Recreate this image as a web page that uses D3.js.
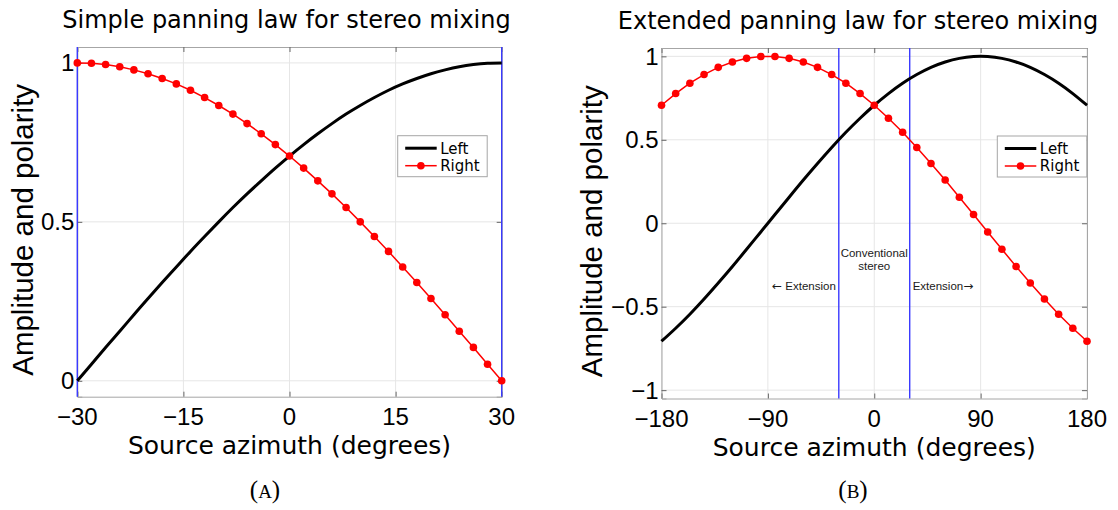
<!DOCTYPE html>
<html>
<head>
<meta charset="utf-8">
<script src="https://cdn.jsdelivr.net/npm/d3@7"></script>
<style>
  html, body { margin: 0; padding: 0; background: #ffffff; }
  svg { display: block; }
</style>
</head>
<body>
<svg id="fig" width="1118" height="510"></svg>
<script>
// ---- Panel A: simple panning law, azimuth -30..30 deg ----
const simpleAzimuth = [-30, -28, -26, -24, -22, -20, -18, -16, -14, -12, -10, -8, -6, -4, -2,
  0, 2, 4, 6, 8, 10, 12, 14, 16, 18, 20, 22, 24, 26, 28, 30];
const simpleLeft = [0.000, 0.052, 0.105, 0.156, 0.208, 0.259, 0.309, 0.358, 0.407, 0.454, 0.500,
  0.545, 0.588, 0.629, 0.669, 0.707, 0.743, 0.777, 0.809, 0.839, 0.866, 0.891, 0.914, 0.934,
  0.951, 0.966, 0.978, 0.988, 0.995, 0.999, 1.000];
const simpleRight = [1.000, 0.999, 0.995, 0.988, 0.978, 0.966, 0.951, 0.934, 0.914, 0.891, 0.866,
  0.839, 0.809, 0.777, 0.743, 0.707, 0.669, 0.629, 0.588, 0.545, 0.500, 0.454, 0.407, 0.358,
  0.309, 0.259, 0.208, 0.156, 0.105, 0.052, 0.000];
const simpleXTicks = [-30, -15, 0, 15, 30];
const simpleYTicks = [0, 0.5, 1];
const simpleBoundaries = [-30, 30];

// ---- Panel B: extended panning law, azimuth -180..180 deg ----
const extAzimuth = [-180, -168, -156, -144, -132, -120, -108, -96, -84, -72, -60, -48, -36, -24, -12,
  0, 12, 24, 36, 48, 60, 72, 84, 96, 108, 120, 132, 144, 156, 168, 180];
const extLeft = [-0.707, -0.629, -0.545, -0.454, -0.358, -0.259, -0.156, -0.052, 0.052, 0.156, 0.259,
  0.358, 0.454, 0.545, 0.629, 0.707, 0.777, 0.839, 0.891, 0.934, 0.966, 0.988, 0.999, 0.999,
  0.988, 0.966, 0.934, 0.891, 0.839, 0.777, 0.707];
const extRight = [0.707, 0.777, 0.839, 0.891, 0.934, 0.966, 0.988, 0.999, 0.999, 0.988, 0.966,
  0.934, 0.891, 0.839, 0.777, 0.707, 0.629, 0.545, 0.454, 0.358, 0.259, 0.156, 0.052, -0.052,
  -0.156, -0.259, -0.358, -0.454, -0.545, -0.629, -0.707];
const extXTicks = [-180, -90, 0, 90, 180];
const extYTicks = [-1, -0.5, 0, 0.5, 1];
const extBoundaries = [-30, 30];

const seriesNames = ["Left", "Right"];

const svg = d3.select("#fig");
const TITLE_FONT = "'DejaVu Sans', sans-serif";
const TICK_FONT = "'Liberation Sans', Arial, sans-serif";
const fmtTick = v => (v < 0 ? "\u2212" + Math.abs(v) : String(v));

function drawPanel(opt) {
  const x = d3.scaleLinear().domain(opt.xDomain).range([opt.left, opt.right]);
  const y = d3.scaleLinear().domain(opt.yDomain).range([opt.bottom, opt.top]);
  const g = svg.append("g");

  // grid
  g.append("g").selectAll("line").data(opt.xTicks).join("line")
    .attr("x1", d => x(d)).attr("x2", d => x(d))
    .attr("y1", opt.top).attr("y2", opt.bottom)
    .attr("stroke", "#e6e6e6").attr("stroke-width", 1);
  g.append("g").selectAll("line").data(opt.yTicks).join("line")
    .attr("x1", opt.left).attr("x2", opt.right)
    .attr("y1", d => y(d)).attr("y2", d => y(d))
    .attr("stroke", "#e6e6e6").attr("stroke-width", 1);

  // axes frame with inward ticks on all four sides
  const axB = d3.axisBottom(x).tickValues(opt.xTicks).tickSize(-5).tickFormat("");
  const axT = d3.axisTop(x).tickValues(opt.xTicks).tickSize(-5).tickFormat("");
  const axL = d3.axisLeft(y).tickValues(opt.yTicks).tickSize(-5).tickFormat("");
  const axR = d3.axisRight(y).tickValues(opt.yTicks).tickSize(-5).tickFormat("");
  [[axB, `translate(0,${opt.bottom})`], [axT, `translate(0,${opt.top})`],
   [axL, `translate(${opt.left},0)`], [axR, `translate(${opt.right},0)`]].forEach(([ax, tr]) => {
    const a = g.append("g").attr("transform", tr).call(ax);
    a.select(".domain").attr("stroke", "#a6a6a6").attr("stroke-width", 1);
    a.selectAll(".tick line").attr("stroke", "#666666");
  });

  // boundary lines
  g.append("g").selectAll("line").data(opt.boundaries).join("line")
    .attr("x1", d => x(d)).attr("x2", d => x(d))
    .attr("y1", opt.top).attr("y2", opt.bottom)
    .attr("stroke", "#3a3aff").attr("stroke-width", 1.4);

  // tick labels
  g.append("g").selectAll("text").data(opt.xTicks).join("text")
    .attr("x", d => x(d)).attr("y", opt.bottom + 28)
    .attr("text-anchor", "middle")
    .attr("font-family", TICK_FONT).attr("font-size", 24)
    .text(fmtTick);
  g.append("g").selectAll("text").data(opt.yTicks).join("text")
    .attr("x", opt.left - 3).attr("y", d => y(d)).attr("dy", "0.35em")
    .attr("text-anchor", "end")
    .attr("font-family", TICK_FONT).attr("font-size", 24)
    .text(fmtTick);

  // curves
  const lineL = d3.line().x((d, i) => x(opt.az[i])).y(d => y(d)).curve(d3.curveNatural);
  const lineR = d3.line().x((d, i) => x(opt.az[i])).y(d => y(d));
  g.append("path").datum(opt.leftVals).attr("d", lineL)
    .attr("fill", "none").attr("stroke", "#000").attr("stroke-width", 3);
  g.append("path").datum(opt.rightVals).attr("d", lineR)
    .attr("fill", "none").attr("stroke", "#ff0000").attr("stroke-width", 1.5);
  g.append("g").selectAll("circle").data(opt.rightVals).join("circle")
    .attr("cx", (d, i) => x(opt.az[i])).attr("cy", d => y(d))
    .attr("r", 3.8).attr("fill", "#ff0000");

  // titles and axis labels
  g.append("text").attr("x", opt.titleX).attr("y", opt.titleY)
    .attr("text-anchor", "middle").attr("font-family", TITLE_FONT).attr("font-size", 24)
    .text(opt.title);
  g.append("text").attr("x", (opt.left + opt.right) / 2).attr("y", opt.xlabelY)
    .attr("text-anchor", "middle").attr("font-family", TITLE_FONT).attr("font-size", 25)
    .text("Source azimuth (degrees)");
  g.append("text")
    .attr("transform", `translate(${opt.ylabelX},${(opt.top + opt.bottom) / 2 + 8}) rotate(-90)`)
    .attr("text-anchor", "middle").attr("font-family", TICK_FONT).attr("font-size", 29.5)
    .text("Amplitude and polarity");

  // legend
  const lg = g.append("g").attr("transform", `translate(${opt.legendX},${opt.legendY})`);
  lg.append("rect").attr("x", 0).attr("y", 0).attr("width", 89.5).attr("height", 41)
    .attr("fill", "#fff").attr("stroke", "#a6a6a6").attr("stroke-width", 1);
  seriesNames.forEach((name, i) => {
    const cy = 12.5 + i * 17.5;
    lg.append("line").attr("x1", 7.5).attr("x2", 39).attr("y1", cy).attr("y2", cy)
      .attr("stroke", i === 0 ? "#000" : "#ff0000").attr("stroke-width", i === 0 ? 3 : 1.5);
    if (i === 1) lg.append("circle").attr("cx", 23.2).attr("cy", cy).attr("r", 3.8).attr("fill", "#ff0000");
    lg.append("text").attr("x", 42.5).attr("y", cy).attr("dy", "0.36em")
      .attr("font-family", TITLE_FONT).attr("font-size", 15).text(name);
  });

  // caption letter
  const cap = g.append("text").attr("x", opt.captionX).attr("y", 498)
    .attr("text-anchor", "middle").attr("font-family", "'Liberation Serif', 'DejaVu Serif', serif")
    .attr("font-size", 25);
  cap.append("tspan").text("(");
  cap.append("tspan").attr("font-size", 19).text(opt.caption);
  cap.append("tspan").text(")");

  return { x, y, g };
}

drawPanel({
  xDomain: [-30, 30], yDomain: [-0.05, 1.05],
  left: 77.3, right: 501.7, top: 47, bottom: 396.7,
  xTicks: simpleXTicks, yTicks: simpleYTicks, boundaries: simpleBoundaries,
  az: simpleAzimuth, leftVals: simpleLeft, rightVals: simpleRight,
  title: "Simple panning law for stereo mixing", titleX: 286.5, titleY: 28,
  xlabelY: 454, ylabelX: 33,
  legendX: 397.7, legendY: 135.7,
  caption: "A", captionX: 265
});

const pB = drawPanel({
  xDomain: [-180, 180], yDomain: [-1.05, 1.05],
  left: 661.5, right: 1087, top: 48, bottom: 398.5,
  xTicks: extXTicks, yTicks: extYTicks, boundaries: extBoundaries,
  az: extAzimuth, leftVals: extLeft, rightVals: extRight,
  title: "Extended panning law for stereo mixing", titleX: 858, titleY: 29,
  xlabelY: 456, ylabelX: 602,
  legendX: 997.3, legendY: 136,
  caption: "B", captionX: 853
});

// region annotations between the boundary lines
const annFont = "'Liberation Sans', Arial, sans-serif";
const arrowFont = "'DejaVu Sans', sans-serif";
const ann = pB.g.append("g").attr("font-family", annFont).attr("font-size", 11.5).attr("fill", "#1a1a1a");
ann.append("text").attr("x", pB.x(0)).attr("y", 257).attr("text-anchor", "middle").text("Conventional");
ann.append("text").attr("x", pB.x(0)).attr("y", 270).attr("text-anchor", "middle").text("stereo");
const annL = ann.append("text").attr("x", pB.x(extBoundaries[0]) - 3).attr("y", 290).attr("text-anchor", "end");
annL.append("tspan").attr("font-family", arrowFont).attr("font-size", 12).text("\u2190");
annL.append("tspan").text(" Extension");
const annR = ann.append("text").attr("x", pB.x(extBoundaries[1]) + 3).attr("y", 290).attr("text-anchor", "start");
annR.append("tspan").text("Extension");
annR.append("tspan").attr("font-family", arrowFont).attr("font-size", 12).text("\u2192");
</script>
</body>
</html>
